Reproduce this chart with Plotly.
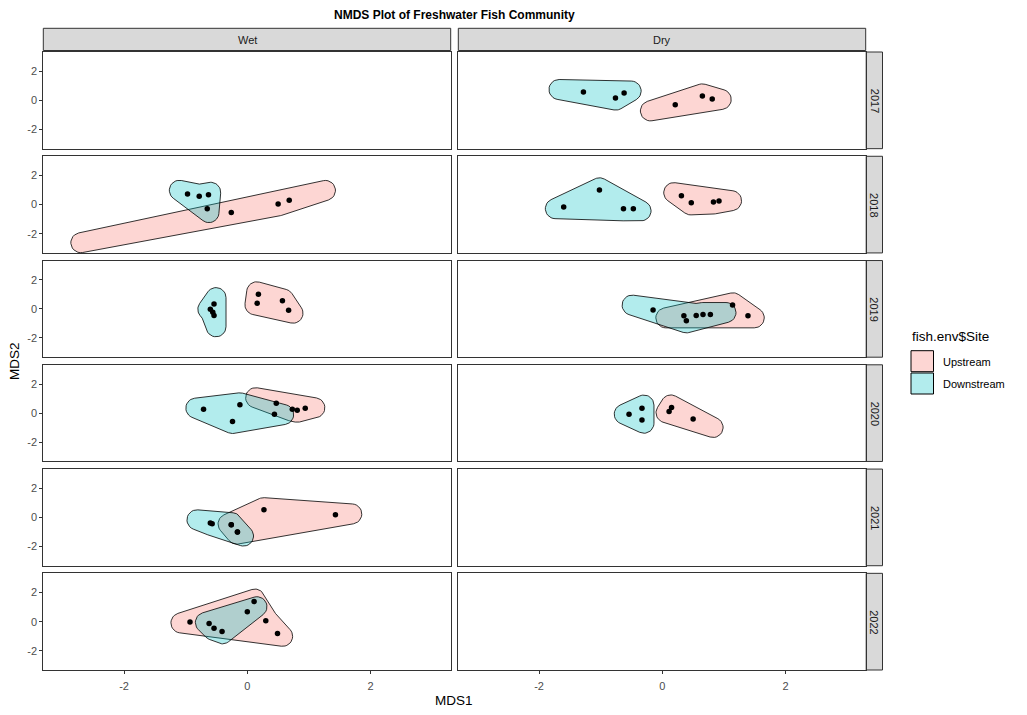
import numpy as np
import plotly.graph_objects as go

W, H = 1027, 715

# ---------------- data (MDS1, MDS2) ----------------
seasons = ["Wet", "Dry"]
years = ["2017", "2018", "2019", "2020", "2021", "2022"]
sites = ["Upstream", "Downstream"]
site_fill = {"Upstream": "rgba(248,118,109,0.3)", "Downstream": "rgba(0,191,196,0.3)"}
x_ticks = [-2, 0, 2]
y_ticks = [-2, 0, 2]

DRY_2017_UP_X = [0.21, 0.65, 0.81]
DRY_2017_UP_Y = [-0.31, 0.30, 0.10]
DRY_2017_DOWN_X = [-1.28, -0.76, -0.62]
DRY_2017_DOWN_Y = [0.57, 0.16, 0.51]

WET_2018_UP_X = [-0.26, 0.50, 0.68]
WET_2018_UP_Y = [-0.55, 0.05, 0.30]
WET_2018_DOWN_X = [-0.97, -0.78, -0.63, -0.65]
WET_2018_DOWN_Y = [0.73, 0.57, 0.68, -0.29]
DRY_2018_UP_X = [0.31, 0.47, 0.83, 0.92]
DRY_2018_UP_Y = [0.61, 0.12, 0.18, 0.25]
DRY_2018_DOWN_X = [-1.60, -1.02, -0.63, -0.47]
DRY_2018_DOWN_Y = [-0.16, 1.00, -0.29, -0.29]

WET_2019_UP_X = [0.18, 0.16, 0.57, 0.67]
WET_2019_UP_Y = [1.00, 0.39, 0.55, -0.09]
WET_2019_DOWN_X = [-0.54, -0.60, -0.56, -0.54]
WET_2019_DOWN_Y = [0.34, -0.02, -0.23, -0.46]
DRY_2019_UP_X = [0.35, 1.14, 1.39]
DRY_2019_UP_Y = [-0.48, 0.27, -0.48]
DRY_2019_DOWN_X = [-0.15, 0.39, 0.55, 0.66, 0.78]
DRY_2019_DOWN_Y = [-0.07, -0.82, -0.46, -0.39, -0.39]

WET_2020_UP_X = [0.47, 0.73, 0.81, 0.94]
WET_2020_UP_Y = [0.68, 0.27, 0.20, 0.34]
WET_2020_DOWN_X = [-0.71, -0.12, -0.24, 0.44]
WET_2020_DOWN_Y = [0.27, 0.57, -0.57, -0.07]
DRY_2020_UP_X = [0.11, 0.15, 0.50]
DRY_2020_UP_Y = [0.11, 0.38, -0.41]
DRY_2020_DOWN_X = [-0.54, -0.33, -0.33]
DRY_2020_DOWN_Y = [-0.07, 0.34, -0.48]

WET_2021_UP_X = [0.27, 1.43, -0.26, -0.16]
WET_2021_UP_Y = [0.53, 0.18, -0.50, -1.00]
WET_2021_DOWN_X = [-0.60, -0.57, -0.26, -0.16]
WET_2021_DOWN_Y = [-0.38, -0.43, -0.50, -1.00]

WET_2022_UP_X = [-0.93, 0.30, 0.49, 0.11]
WET_2022_UP_Y = [-0.03, 0.07, -0.82, 1.39]
WET_2022_DOWN_X = [-0.62, -0.54, -0.41, 0.00]
WET_2022_DOWN_Y = [-0.12, -0.46, -0.68, 0.68]

panels = {
    ("Dry", "2017"): {"Upstream": (DRY_2017_UP_X, DRY_2017_UP_Y), "Downstream": (DRY_2017_DOWN_X, DRY_2017_DOWN_Y)},
    ("Wet", "2018"): {"Upstream": (WET_2018_UP_X, WET_2018_UP_Y), "Downstream": (WET_2018_DOWN_X, WET_2018_DOWN_Y)},
    ("Dry", "2018"): {"Upstream": (DRY_2018_UP_X, DRY_2018_UP_Y), "Downstream": (DRY_2018_DOWN_X, DRY_2018_DOWN_Y)},
    ("Wet", "2019"): {"Upstream": (WET_2019_UP_X, WET_2019_UP_Y), "Downstream": (WET_2019_DOWN_X, WET_2019_DOWN_Y)},
    ("Dry", "2019"): {"Upstream": (DRY_2019_UP_X, DRY_2019_UP_Y), "Downstream": (DRY_2019_DOWN_X, DRY_2019_DOWN_Y)},
    ("Wet", "2020"): {"Upstream": (WET_2020_UP_X, WET_2020_UP_Y), "Downstream": (WET_2020_DOWN_X, WET_2020_DOWN_Y)},
    ("Dry", "2020"): {"Upstream": (DRY_2020_UP_X, DRY_2020_UP_Y), "Downstream": (DRY_2020_DOWN_X, DRY_2020_DOWN_Y)},
    ("Wet", "2021"): {"Upstream": (WET_2021_UP_X, WET_2021_UP_Y), "Downstream": (WET_2021_DOWN_X, WET_2021_DOWN_Y)},
    ("Wet", "2022"): {"Upstream": (WET_2022_UP_X, WET_2022_UP_Y), "Downstream": (WET_2022_DOWN_X, WET_2022_DOWN_Y)},
}

# ---------------- layout geometry (pixels) ----------------
XR = [-3.31, 3.30]
YR = [-3.32, 3.32]
col_x = [(43.3, 450.7), (458.3, 865.7)]
TOP0, BOT_LAST, GAP = 52.0, 670.0, 7.6
PH = (BOT_LAST - TOP0 - 5 * GAP) / 6
row_y = [(TOP0 + i * (PH + GAP), TOP0 + i * (PH + GAP) + PH) for i in range(6)]

EXPAND_MITRE = 2.0   # px (expand - radius)
RADIUS = 10.0        # px


def cross(o, a, b):
    return (a[0] - o[0]) * (b[1] - o[1]) - (a[1] - o[1]) * (b[0] - o[0])


def convex_hull(points):
    pts = sorted(set(points))
    if len(pts) <= 2:
        return pts
    lower, upper = [], []
    for p in pts:
        while len(lower) >= 2 and cross(lower[-2], lower[-1], p) <= 0:
            lower.pop()
        lower.append(p)
    for p in reversed(pts):
        while len(upper) >= 2 and cross(upper[-2], upper[-1], p) <= 0:
            upper.pop()
        upper.append(p)
    return lower[:-1] + upper[:-1]


def segdist(p, a, b):
    p, a, b = np.array(p), np.array(a), np.array(b)
    ab = b - a
    t = np.clip(np.dot(p - a, ab) / max(np.dot(ab, ab), 1e-12), 0, 1)
    return float(np.linalg.norm(p - (a + t * ab)))


def dist(a, b):
    return float(np.hypot(a[0] - b[0], a[1] - b[1]))


def seg_intersect(p1, p2, p3, p4):
    d1 = cross(p3, p4, p1)
    d2 = cross(p3, p4, p2)
    d3 = cross(p1, p2, p3)
    d4 = cross(p1, p2, p4)
    return (d1 * d2 < 0) and (d3 * d4 < 0)


def concave(hull, pts, c=2.0):
    # concaveman-like refinement: each edge processed once, new edges queued
    ring = list(hull)
    inner = [p for p in set(pts) if p not in ring]
    queue = [(ring[i], ring[(i + 1) % len(ring)]) for i in range(len(ring))]
    qi = 0
    while qi < len(queue) and inner:
        a, b = queue[qi]
        qi += 1
        n = len(ring)
        ia = ring.index(a)
        if ring[(ia + 1) % n] != b:
            continue
        prev_p = ring[ia - 1]
        next_p = ring[(ia + 2) % n]
        L = dist(a, b)
        cands = sorted(inner, key=lambda p: segdist(p, a, b))
        chosen = None
        for p in cands:
            d0 = segdist(p, a, b)
            if d0 > L / c:
                break
            if d0 < segdist(p, prev_p, a) and d0 < segdist(p, b, next_p):
                ok = True
                for k in range(n):
                    e1, e2 = ring[k], ring[(k + 1) % n]
                    if (e1, e2) == (a, b):
                        continue
                    if seg_intersect(a, p, e1, e2) or seg_intersect(p, b, e1, e2):
                        ok = False
                        break
                if ok:
                    chosen = p
                    break
        if chosen is not None and min(dist(chosen, a), dist(chosen, b)) <= L / c:
            ring.insert(ia + 1, chosen)
            inner.remove(chosen)
            queue.append((a, chosen))
            queue.append((chosen, b))
    return ring


def rounded_shape(poly, d, r, k=14):
    P = np.array(poly, dtype=float)
    n = len(P)
    N = []
    for i in range(n):
        e = P[(i + 1) % n] - P[i]
        N.append(np.array([e[1], -e[0]]) / np.linalg.norm(e))
    Q = []
    for i in range(n):
        n1, n2 = N[i - 1], N[i]
        Q.append(P[i] + d * (n1 + n2) / max(1 + n1 @ n2, 1e-6))
    out = []
    for i in range(n):
        n1, n2 = N[i - 1], N[i]
        c = n1[0] * n2[1] - n1[1] * n2[0]
        if c > 1e-9:
            a1, a2 = np.arctan2(n1[1], n1[0]), np.arctan2(n2[1], n2[0])
            if a2 < a1:
                a2 += 2 * np.pi
            for t in np.linspace(a1, a2, k):
                out.append(Q[i] + r * np.array([np.cos(t), np.sin(t)]))
        else:
            out.append(Q[i] + r * (n1 + n2) / max(1 + n1 @ n2, 1e-6))
    out.append(out[0])
    return np.array(out)


fig = go.Figure()
layout = {}
TICKFONT = dict(family="Liberation Sans", size=11, color="#4D4D4D")

for ri, yr in enumerate(years):
    for ci, se in enumerate(seasons):
        idx = ri * 2 + ci + 1
        xs = "" if idx == 1 else str(idx)
        x0, x1 = col_x[ci]
        y0, y1 = row_y[ri]
        sx = (x1 - x0) / (XR[1] - XR[0])
        sy = (y1 - y0) / (YR[1] - YR[0])
        layout["xaxis" + xs] = dict(
            domain=[x0 / W, x1 / W], range=XR, anchor="y" + xs,
            showgrid=False, zeroline=False, showline=True, mirror=True,
            linecolor="#333333", linewidth=1,
            tickvals=x_ticks, ticktext=[str(v) for v in x_ticks],
            ticks="outside" if ri == 5 else "", ticklen=3, tickcolor="#333333",
            showticklabels=(ri == 5), ticklabelstandoff=3, tickfont=TICKFONT,
        )
        layout["yaxis" + xs] = dict(
            domain=[1 - y1 / H, 1 - y0 / H], range=YR, anchor="x" + xs,
            showgrid=False, zeroline=False, showline=True, mirror=True,
            linecolor="#333333", linewidth=1,
            tickvals=y_ticks, ticktext=[str(v) for v in y_ticks],
            ticks="outside" if ci == 0 else "", ticklen=3, tickcolor="#333333",
            showticklabels=(ci == 0), tickfont=TICKFONT,
        )
        # keep every panel drawn, even empty ones
        fig.add_trace(go.Scatter(x=[None], y=[None], mode="markers", xaxis="x" + xs, yaxis="y" + xs,
                                 showlegend=False, hoverinfo="skip"))
        grp = panels.get((se, yr))
        if not grp:
            continue
        for site in sites:
            gx, gy = grp[site]
            pts = [(float(a) * sx, float(b) * sy) for a, b in zip(gx, gy)]
            hull = convex_hull(pts)
            hull = concave(hull, pts)
            shp = rounded_shape(hull, EXPAND_MITRE, RADIUS)
            fig.add_trace(go.Scatter(
                x=shp[:, 0] / sx, y=shp[:, 1] / sy, mode="lines", fill="toself",
                fillcolor=site_fill[site], line=dict(color="black", width=0.8),
                xaxis="x" + xs, yaxis="y" + xs, showlegend=False, hoverinfo="skip"))
        for site in sites:
            gx, gy = grp[site]
            fig.add_trace(go.Scatter(
                x=gx, y=gy, mode="markers", marker=dict(color="black", size=5.5),
                xaxis="x" + xs, yaxis="y" + xs, showlegend=False, name=site))

shapes = []
annotations = []


def ann(text, xp, yp, size, color="#000000", angle=0, xanchor="center"):
    annotations.append(dict(text=text, x=xp / W, y=1 - yp / H, xref="paper", yref="paper",
                            showarrow=False, xanchor=xanchor, yanchor="middle", textangle=angle,
                            font=dict(family="Liberation Sans", size=size, color=color)))


# top strips
for ci, se in enumerate(seasons):
    x0, x1 = col_x[ci]
    shapes.append(dict(type="rect", xref="paper", yref="paper", x0=x0 / W, x1=x1 / W,
                       y0=1 - 50.5 / H, y1=1 - 28.3 / H, fillcolor="#D9D9D9",
                       line=dict(color="#333333", width=1), layer="below"))
    ann(se, (x0 + x1) / 2, 39.5, 11, "#1A1A1A")
# right strips
for ri, yr in enumerate(years):
    y0, y1 = row_y[ri]
    shapes.append(dict(type="rect", xref="paper", yref="paper", x0=866.2 / W, x1=882.5 / W,
                       y0=1 - y1 / H, y1=1 - y0 / H, fillcolor="#D9D9D9",
                       line=dict(color="#333333", width=1), layer="below"))
    ann(yr, 874.5, (y0 + y1) / 2, 11, "#1A1A1A", angle=90)

# titles
ann("<b>NMDS Plot of Freshwater Fish Community</b>", 454, 15, 12)
ann("MDS1", 454, 700, 13.5)
ann("MDS2", 14, 361, 13.5, angle=-90)

# legend
ann("fish.env$Site", 910, 336, 13.5, xanchor="left")
for k, site in enumerate(sites):
    top = 350.7 + k * 22.3
    shapes.append(dict(type="rect", xref="paper", yref="paper", x0=911 / W, x1=933.5 / W,
                       y0=1 - (top + 21) / H, y1=1 - top / H, fillcolor=site_fill[site],
                       line=dict(color="#000000", width=1)))
    ann(site, 941, top + 11, 11, xanchor="left")

fig.update_layout(
    width=W, height=H, margin=dict(l=0, r=0, t=0, b=0),
    paper_bgcolor="white", plot_bgcolor="white", showlegend=False,
    shapes=shapes, annotations=annotations, **layout)

fig.write_html("out.html", config={"displayModeBar": False},
               post_script="document.body.style.margin='0';document.body.style.overflow='hidden';")
